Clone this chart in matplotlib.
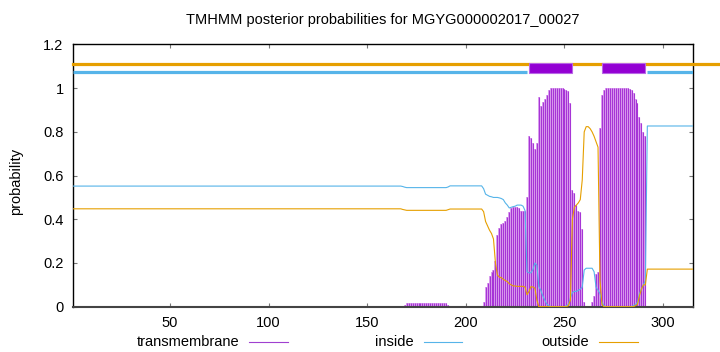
import matplotlib
matplotlib.use("Agg")
import matplotlib.pyplot as plt
from matplotlib.lines import Line2D
from matplotlib.patches import Rectangle
from matplotlib.transforms import blended_transform_factory
import numpy as np

plt.rcParams['font.family'] = ['Liberation Sans', 'DejaVu Sans']

title = "TMHMM posterior probabilities for MGYG000002017_00027"
seq_len = 315

# ---- per-residue posterior probabilities ----
# residues 1..208
tm_a = [0.0] * 167 + [0.005, 0.01, 0.015] + [0.018] * 20 + [0.01] + [0.0] * 17
in_a = [0.552] * 167 + [0.550, 0.547, 0.545] + [0.545] * 20 + [0.548] + [0.553] * 17
out_a = [0.448] * 167 + [0.445, 0.443, 0.441] + [0.441] * 20 + [0.444] + [0.447] * 17

# residues 209..292
tm_b = [0.02, 0.09, 0.11, 0.14, 0.16, 0.17, 0.21, 0.33, 0.36, 0.38,
        0.385, 0.39, 0.41, 0.435, 0.45, 0.455, 0.455, 0.455, 0.45, 0.44,
        0.44, 0.44, 0.50, 0.78, 0.77, 0.75, 0.72, 0.75, 0.96, 0.92,
        0.935, 0.95, 0.97, 0.99, 1.0, 1.0, 1.0, 1.0, 1.0, 1.0,
        1.0, 0.996, 0.99, 0.985, 0.93, 0.534, 0.52, 0.466, 0.44, 0.435,
        0.356, 0.02, 0.0, 0.0, 0.005, 0.02, 0.05, 0.15, 0.16, 0.82,
        0.97, 0.99, 1.0, 1.0, 1.0, 1.0, 1.0, 1.0, 1.0, 1.0,
        1.0, 1.0, 1.0, 1.0, 0.995, 0.99, 0.98, 0.95, 0.93, 0.87,
        0.84, 0.80, 0.78, 0.005]
in_b = [0.540, 0.515, 0.510, 0.505, 0.503, 0.500, 0.500, 0.500, 0.498, 0.495,
        0.490, 0.475, 0.465, 0.452, 0.455, 0.458, 0.460, 0.465, 0.465, 0.465,
        0.460, 0.440, 0.160, 0.155, 0.155, 0.170, 0.200, 0.190, 0.092, 0.075,
        0.050, 0.030, 0.012, 0.005, 0.0, 0.0, 0.0, 0.0, 0.0, 0.0,
        0.0, 0.0, 0.005, 0.01, 0.04, 0.065, 0.07, 0.07, 0.075, 0.08,
        0.09, 0.168, 0.176, 0.176, 0.176, 0.176, 0.16, 0.09, 0.075, 0.06,
        0.02, 0.005, 0.0, 0.0, 0.0, 0.0, 0.0, 0.0, 0.0, 0.0,
        0.0, 0.0, 0.0, 0.0, 0.0, 0.0, 0.005, 0.01, 0.02, 0.06,
        0.08, 0.10, 0.12, 0.827]
out_b = [0.435, 0.390, 0.370, 0.350, 0.335, 0.310, 0.200, 0.145, 0.135, 0.133,
         0.125, 0.120, 0.115, 0.105, 0.100, 0.095, 0.095, 0.093, 0.093, 0.093,
         0.093, 0.090, 0.055, 0.070, 0.092, 0.090, 0.085, 0.030, 0.0, 0.0,
         0.0, 0.0, 0.0, 0.0, 0.0, 0.0, 0.0, 0.0, 0.0, 0.0,
         0.0, 0.0, 0.0, 0.005, 0.03, 0.40, 0.455, 0.465, 0.475, 0.49,
         0.58, 0.80, 0.824, 0.824, 0.815, 0.80, 0.78, 0.755, 0.73, 0.12,
         0.01, 0.0, 0.0, 0.0, 0.0, 0.0, 0.0, 0.0, 0.0, 0.0,
         0.0, 0.0, 0.0, 0.0, 0.0, 0.0, 0.0, 0.005, 0.01, 0.05,
         0.08, 0.10, 0.10, 0.172]

# residues 293..315
tm_c = [0.0] * 23
in_c = [0.827] * 23
out_c = [0.172] * 23

tm_prob = np.array(tm_a + tm_b + tm_c)
in_prob = np.array(in_a + in_b + in_c)
out_prob = np.array(out_a + out_b + out_c)
residues = np.arange(1, seq_len + 1)
assert len(tm_prob) == len(in_prob) == len(out_prob) == seq_len

# predicted topology segments
inside_segments = [(1, 231), (292, 315)]
tm_segments = [(232, 254), (269, 291)]

c_tm = '#9400D3'
c_in = '#56B4E9'
c_out = '#E69F00'
fs = 10.5

fig = plt.figure(figsize=(7.2, 3.52), dpi=100)
ax = fig.add_axes([0.1018, 0.1287, 0.8603, 0.7449])

# transmembrane impulses
ax.bar(residues, tm_prob, width=1.0, color='#dda2f0', linewidth=0, zorder=1)
ax.vlines(residues, 0, tm_prob, color='#a635d6', lw=0.8, zorder=2)
ax.plot(residues, in_prob, color=c_in, lw=0.8, zorder=3)
ax.plot(residues, out_prob, color=c_out, lw=0.8, zorder=3)

# topology bars on top
trans = blended_transform_factory(fig.transFigure, ax.transData)
ax.add_line(Line2D([0.1018, 1.0], [1.113, 1.113], transform=trans, color=c_out,
                   lw=2.3, clip_on=False, zorder=4))
for s, e in inside_segments:
    ax.plot([s, e], [1.073, 1.073], color=c_in, lw=2.3, solid_capstyle='butt', zorder=4)
for s, e in tm_segments:
    ax.add_patch(Rectangle((s, 1.068), e - s, 0.049, facecolor=c_tm,
                           edgecolor='#b866e6', lw=0.8, zorder=5))

ax.set_xlim(1, seq_len)
ax.set_ylim(0, 1.2)
ax.set_xticks([50, 100, 150, 200, 250, 300])
ax.set_yticks([0, 0.2, 0.4, 0.6, 0.8, 1.0, 1.2])
ax.set_yticklabels(['0', '0.2', '0.4', '0.6', '0.8', '1', '1.2'])
ax.tick_params(direction='in', length=3, width=0.8, color='#777777',
               top=True, right=True, labelsize=fs, pad=7)
for sp in ax.spines.values():
    sp.set_linewidth(1.0)
    sp.set_color('black')
ax.spines['bottom'].set_color('#444444')
ax.spines['bottom'].set_linewidth(1.5)

ax.set_ylabel('probability', fontsize=fs)
ax.yaxis.set_label_coords(-0.081, 0.477)
fig.text(383 / 720, 1 - 20 / 352, title, ha='center', va='center', fontsize=fs)

# legend below plot
legend_items = [('transmembrane', '#a040d0', 239, 249, 288),
                ('inside', c_in, 414, 424, 462),
                ('outside', c_out, 589, 599, 638)]
ly = 1 - 342 / 352
for label, col, tx, x0, x1 in legend_items:
    fig.text(tx / 720, ly, label, ha='right', va='center', fontsize=fs)
    fig.add_artist(Line2D([x0 / 720, x1 / 720], [ly, ly], color=col, lw=0.8,
                          transform=fig.transFigure))

fig.savefig('out.png', dpi=100)
